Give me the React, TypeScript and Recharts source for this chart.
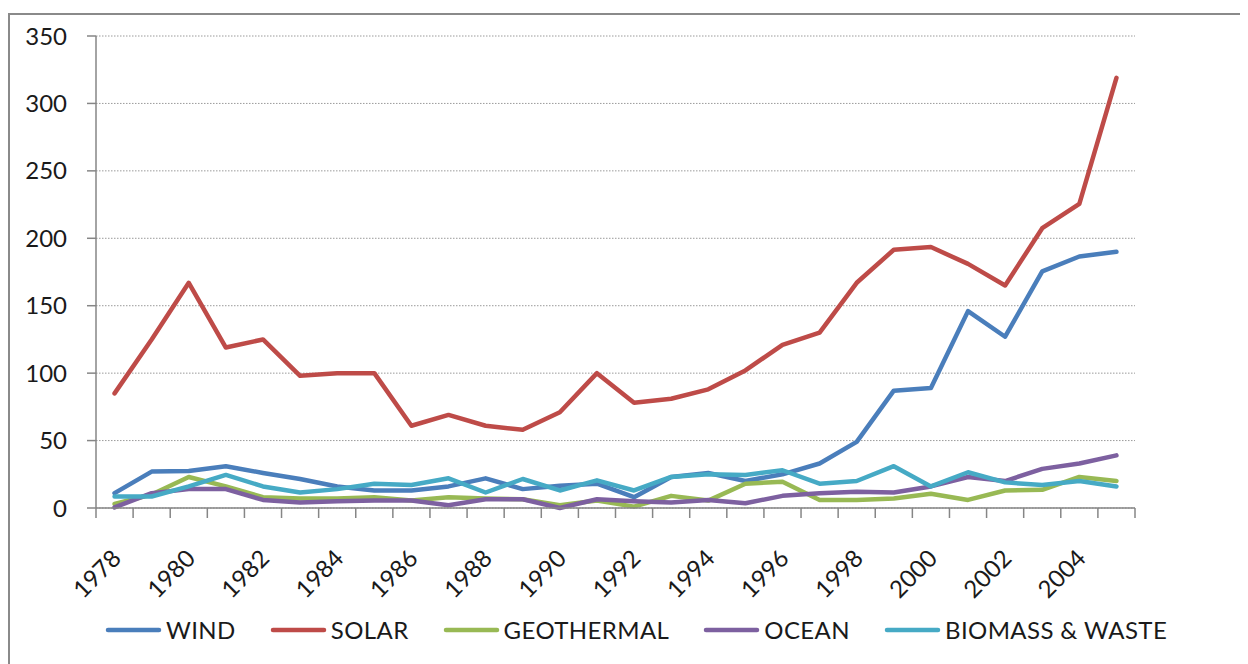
import React from 'react';
import { LineChart, Line, XAxis, YAxis, CartesianGrid } from 'recharts';

const years = [
  1978, 1979, 1980, 1981, 1982, 1983, 1984, 1985, 1986, 1987, 1988, 1989, 1990, 1991,
  1992, 1993, 1994, 1995, 1996, 1997, 1998, 1999, 2000, 2001, 2002, 2003, 2004, 2005,
];

const wind = [11, 27, 27.5, 31, 26, 21.5, 16, 13, 13, 16, 22, 14, 16.5, 18, 8, 23, 26, 20, 25, 33, 49, 87, 89, 146, 127, 175.5, 186.5, 190];
const solar = [85, 125, 167, 119, 125, 98, 100, 100, 61, 69, 61, 58, 71, 100, 78, 81, 88, 102, 121, 130, 167, 191.5, 193.5, 181, 165, 207.5, 225.5, 319];
const geothermal = [3, 10, 23, 16, 8, 7, 7, 8, 5.5, 8, 7, 6.5, 2, 5.5, 1, 9, 5.5, 18, 19.5, 6, 6, 7, 10.5, 6, 13, 13.5, 23, 20];
const ocean = [0.5, 11, 14, 14, 6, 4, 5, 5.5, 5.5, 2, 6.5, 6.5, 0, 6.5, 5, 4, 6, 3.5, 9, 11, 12, 11.5, 16, 23, 20, 29, 33, 39];
const biomass = [8.5, 8.5, 16, 24.5, 16, 11.5, 14, 18, 17, 22, 11.5, 21.5, 13, 20.5, 13, 23, 25, 24.5, 28, 18, 20, 31, 16, 26.5, 19, 17, 20, 16];

const yTicks = [0, 50, 100, 150, 200, 250, 300, 350];

const series = [
  { key: 'wind', name: 'WIND', color: '#4A7EBB' },
  { key: 'solar', name: 'SOLAR', color: '#BE4B48' },
  { key: 'geothermal', name: 'GEOTHERMAL', color: '#98B954' },
  { key: 'ocean', name: 'OCEAN', color: '#7D60A0' },
  { key: 'biomass', name: 'BIOMASS & WASTE', color: '#46AAC5' },
];

const data = years.map((year, i) => ({
  year,
  wind: wind[i],
  solar: solar[i],
  geothermal: geothermal[i],
  ocean: ocean[i],
  biomass: biomass[i],
}));

const W = 1240;
const H = 656;
const X_HEIGHT = 156;
const MARGIN = { top: 28, right: 113, bottom: 0, left: 0 };
const Y_WIDTH = 88;
const PLOT_W = W - MARGIN.left - MARGIN.right - Y_WIDTH;
const BAND = PLOT_W / years.length;
const AXIS = '#868686';
const FONT = 'Lato, "Open Sans", sans-serif';

// tick marks sit between categories, labels on every other year
const XTick = (props: any) => {
  const { x, y, payload, index } = props;
  const half = BAND / 2;
  const year = payload.value;
  const lx = x + 8;
  const ly = y + 52;
  return (
    <g>
      <line x1={x - half} x2={x - half} y1={y} y2={y + 10} stroke={AXIS} strokeWidth={1.5} />
      {index === years.length - 1 && (
        <line x1={x + half} x2={x + half} y1={y} y2={y + 10} stroke={AXIS} strokeWidth={1.5} />
      )}
      {year % 2 === 0 && (
        <text
          x={lx}
          y={ly}
          transform={`rotate(-45 ${lx} ${ly})`}
          textAnchor="end"
          fontSize={24}
          fill="#1a1a1a"
          fontFamily={FONT}
        >
          {year}
        </text>
      )}
    </g>
  );
};

export default function App() {
  return (
    <div style={{ position: 'relative', width: W, height: H, overflow: 'hidden', fontFamily: FONT }}>
      <div
        style={{
          position: 'absolute',
          left: 0,
          top: 5,
          width: W,
          height: H - 5,
          borderTop: '2px solid #8a8a8a',
          borderLeft: '2px solid #8a8a8a',
          boxSizing: 'border-box',
        }}
      />
      <div style={{ position: 'absolute', left: 0, top: 0 }}>
        <LineChart width={W} height={H} data={data} margin={MARGIN}>
          <CartesianGrid vertical={false} stroke="#9a9a9a" strokeDasharray="1.5 1.5" />
          <XAxis
            dataKey="year"
            type="number"
            domain={[1977.5, 2005.5]}
            ticks={years}
            interval={0}
            tickLine={false}
            tickSize={0}
            tickMargin={0}
            axisLine={{ stroke: AXIS, strokeWidth: 1.5 }}
            tick={<XTick />}
            height={X_HEIGHT}
          />
          <YAxis
            width={Y_WIDTH}
            domain={[0, 350]}
            ticks={yTicks}
            interval={0}
            tickSize={9}
            tickMargin={20}
            tickLine={{ stroke: AXIS, strokeWidth: 1.5 }}
            axisLine={{ stroke: AXIS, strokeWidth: 1.5 }}
            tick={{ fontSize: 24, fill: '#1a1a1a', fontFamily: FONT }}
          />
          {series.map((s) => (
            <Line
              key={s.key}
              type="linear"
              dataKey={s.key}
              name={s.name}
              stroke={s.color}
              strokeWidth={4.5}
              strokeLinejoin="round"
              strokeLinecap="round"
              dot={false}
              activeDot={false}
              isAnimationActive={false}
            />
          ))}
        </LineChart>
      </div>
      <div
        style={{
          position: 'absolute',
          left: 97,
          top: 607,
          display: 'flex',
          alignItems: 'center',
          fontSize: 24,
          letterSpacing: 0.4,
          color: '#1a1a1a',
          whiteSpace: 'nowrap',
        }}
      >
        {series.map((s) => (
          <div key={s.key} style={{ display: 'flex', alignItems: 'center', marginRight: 34 }}>
            <svg width={57} height={8} style={{ marginRight: 4 }}>
              <line x1={3} x2={54} y1={4} y2={4} stroke={s.color} strokeWidth={4.5} strokeLinecap="round" />
            </svg>
            <span>{s.name}</span>
          </div>
        ))}
      </div>
    </div>
  );
}
